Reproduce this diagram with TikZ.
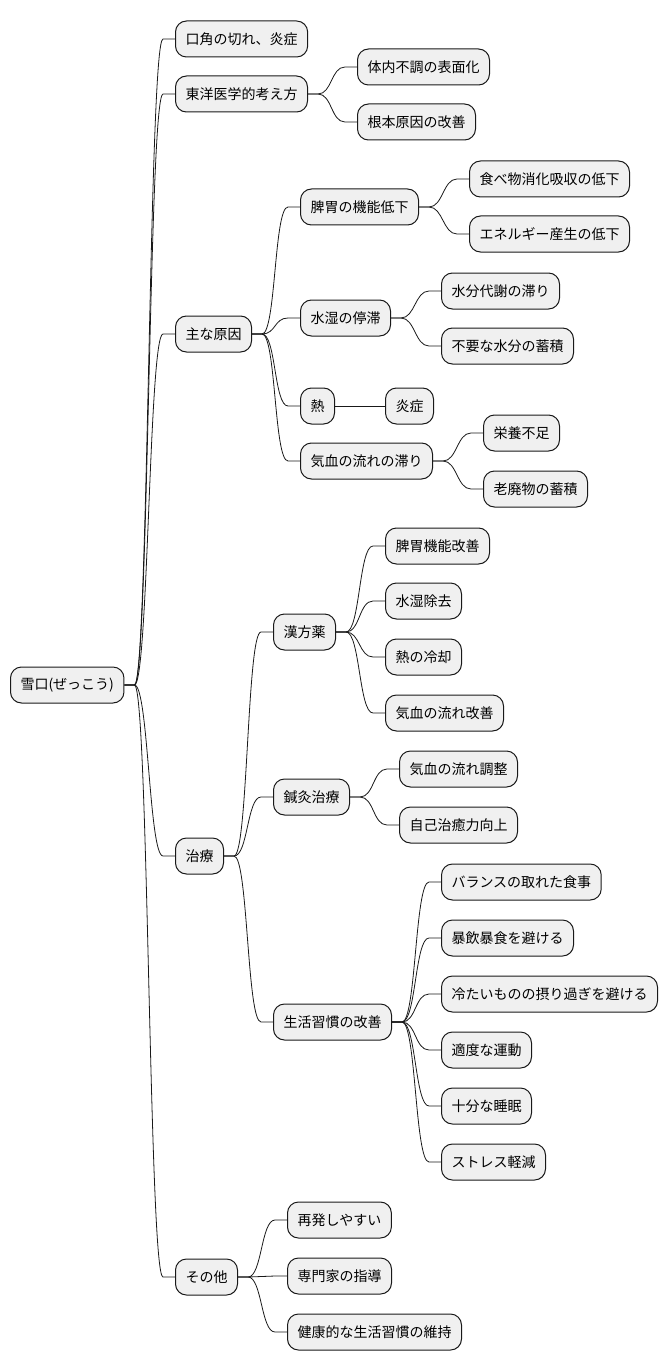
\documentclass[tikz,border=0pt]{standalone}
\usepackage{fontspec}
\setmainfont{Noto Sans CJK JP}
\usepackage{tikz}
\usetikzlibrary{calc}

\begin{document}
\begin{tikzpicture}[
    x=1pt, y=-1pt,
    every node/.style={font=\fontsize{14}{16}\selectfont},
    topic/.style={draw=black!90, fill=black!6, rounded corners=11pt, line width=1pt,
      minimum height=36pt, inner xsep=10pt, inner ysep=0pt, anchor=west},
    link/.style={draw=black!90, line width=0.8pt},
    branch/.style={to path={-- ++(10pt,0) .. controls +(14pt,0) and +(-14pt,0) .. ([xshift=-12pt]\tikztotarget) -- (\tikztotarget)}}
  ]
  \useasboundingbox (0,0) rectangle (667,1372);

  % --- Root ---
  \node[topic] (root) at (10,685) {雪口(ぜっこう)};

  % --- First level ---
  \node[topic] (kakuchi) at (175,39) {口角の切れ、炎症};
  \node[topic] (toyo) at (175,94) {東洋医学的考え方};
  \node[topic] (genin) at (175,334) {主な原因};
  \node[topic] (chiryo) at (175,856) {治療};
  \node[topic] (sonota) at (175,1277) {その他};

  % --- Eastern medicine ---
  \node[topic] (hyomen) at (357,67) {体内不調の表面化};
  \node[topic] (konpon) at (357,122) {根本原因の改善};

  % --- Causes ---
  \node[topic] (hii) at (300,207) {脾胃の機能低下};
  \node[topic] (suishitsu) at (300,318) {水湿の停滞};
  \node[topic] (netsu) at (300,406) {熱};
  \node[topic] (kiketsu) at (300,461) {気血の流れの滞り};

  \node[topic] (shoka) at (469,179) {食べ物消化吸収の低下};
  \node[topic] (energy) at (469,234) {エネルギー産生の低下};
  \node[topic] (suibun) at (441,291) {水分代謝の滞り};
  \node[topic] (chikuseki) at (441,346) {不要な水分の蓄積};
  \node[topic] (ensho) at (385,406) {炎症};
  \node[topic] (eiyo) at (483,433) {栄養不足};
  \node[topic] (rohai) at (483,489) {老廃物の蓄積};

  % --- Treatment ---
  \node[topic] (kanpo) at (273,632) {漢方薬};
  \node[topic] (shinkyu) at (273,797) {鍼灸治療};
  \node[topic] (seikatsu) at (273,1022) {生活習慣の改善};

  \node[topic] (kp1) at (385,546) {脾胃機能改善};
  \node[topic] (kp2) at (385,601) {水湿除去};
  \node[topic] (kp3) at (385,657) {熱の冷却};
  \node[topic] (kp4) at (385,713) {気血の流れ改善};

  \node[topic] (sk1) at (399,769) {気血の流れ調整};
  \node[topic] (sk2) at (399,825) {自己治癒力向上};

  \node[topic] (sl1) at (441,882) {バランスの取れた食事};
  \node[topic] (sl2) at (441,938) {暴飲暴食を避ける};
  \node[topic] (sl3) at (441,994) {冷たいものの摂り過ぎを避ける};
  \node[topic] (sl4) at (441,1050) {適度な運動};
  \node[topic] (sl5) at (441,1106) {十分な睡眠};
  \node[topic] (sl6) at (441,1162) {ストレス軽減};

  % --- Others ---
  \node[topic] (saihatsu) at (287,1220) {再発しやすい};
  \node[topic] (senmon) at (287,1276) {専門家の指導};
  \node[topic] (kenko) at (287,1332) {健康的な生活習慣の維持};

  % --- Branches: root ---
  \draw[link] (root.east) to[branch] (kakuchi.west);
  \draw[link] (root.east) to[branch] (toyo.west);
  \draw[link] (root.east) to[branch] (genin.west);
  \draw[link] (root.east) to[branch] (chiryo.west);
  \draw[link] (root.east) to[branch] (sonota.west);

  % --- Branches: eastern medicine ---
  \draw[link] (toyo.east) to[branch] (hyomen.west);
  \draw[link] (toyo.east) to[branch] (konpon.west);

  % --- Branches: causes ---
  \draw[link] (genin.east) to[branch] (hii.west);
  \draw[link] (genin.east) to[branch] (suishitsu.west);
  \draw[link] (genin.east) to[branch] (netsu.west);
  \draw[link] (genin.east) to[branch] (kiketsu.west);
  \draw[link] (hii.east) to[branch] (shoka.west);
  \draw[link] (hii.east) to[branch] (energy.west);
  \draw[link] (suishitsu.east) to[branch] (suibun.west);
  \draw[link] (suishitsu.east) to[branch] (chikuseki.west);
  \draw[link] (netsu.east) -- (ensho.west);
  \draw[link] (kiketsu.east) to[branch] (eiyo.west);
  \draw[link] (kiketsu.east) to[branch] (rohai.west);

  % --- Branches: treatment ---
  \draw[link] (chiryo.east) to[branch] (kanpo.west);
  \draw[link] (chiryo.east) to[branch] (shinkyu.west);
  \draw[link] (chiryo.east) to[branch] (seikatsu.west);
  \draw[link] (kanpo.east) to[branch] (kp1.west);
  \draw[link] (kanpo.east) to[branch] (kp2.west);
  \draw[link] (kanpo.east) to[branch] (kp3.west);
  \draw[link] (kanpo.east) to[branch] (kp4.west);
  \draw[link] (shinkyu.east) to[branch] (sk1.west);
  \draw[link] (shinkyu.east) to[branch] (sk2.west);
  \draw[link] (seikatsu.east) to[branch] (sl1.west);
  \draw[link] (seikatsu.east) to[branch] (sl2.west);
  \draw[link] (seikatsu.east) to[branch] (sl3.west);
  \draw[link] (seikatsu.east) to[branch] (sl4.west);
  \draw[link] (seikatsu.east) to[branch] (sl5.west);
  \draw[link] (seikatsu.east) to[branch] (sl6.west);

  % --- Branches: others ---
  \draw[link] (sonota.east) to[branch] (saihatsu.west);
  \draw[link] (sonota.east) to[branch] (senmon.west);
  \draw[link] (sonota.east) to[branch] (kenko.west);

\end{tikzpicture}
\end{document}
